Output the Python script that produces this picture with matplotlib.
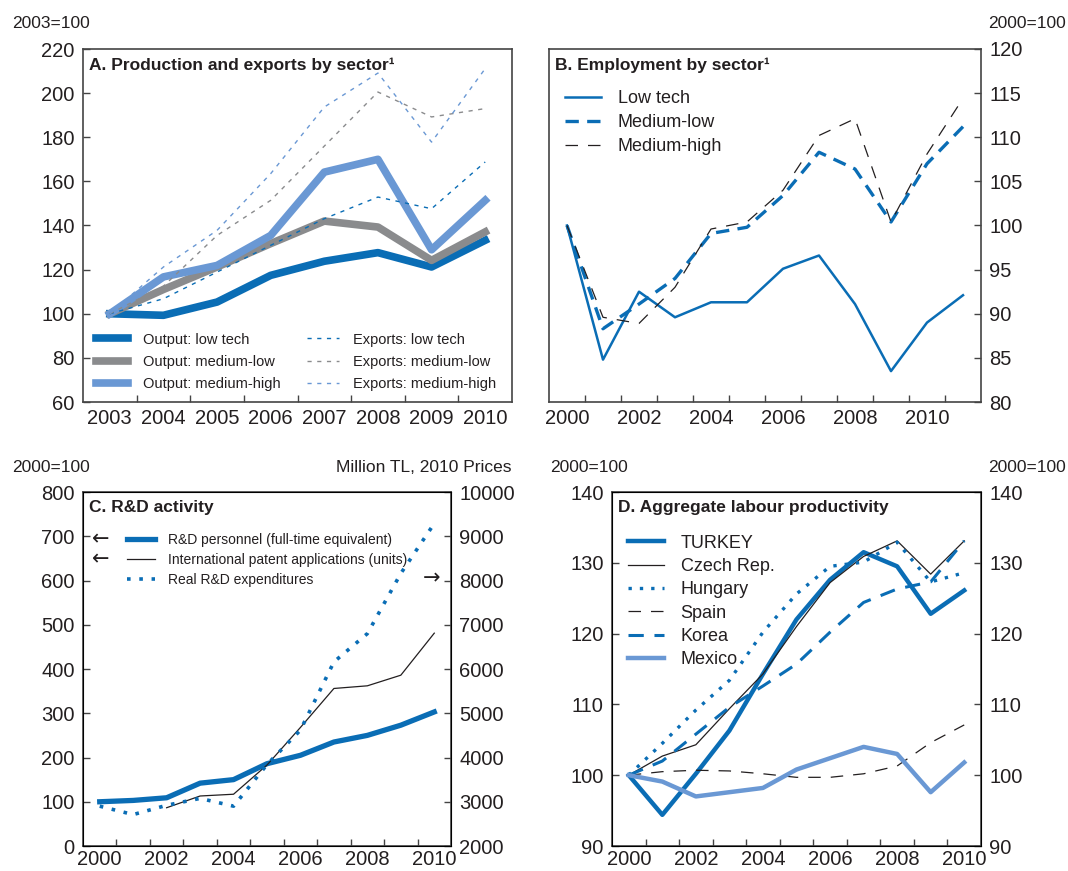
import matplotlib
matplotlib.use('Agg')
import matplotlib.pyplot as plt
from matplotlib.ticker import FixedLocator

plt.rcParams['font.family'] = ['Liberation Sans', 'DejaVu Sans']

DARK = '#0A6DB5'
GREY = '#8A8B8D'
LIGHT = '#6A98D4'
TXT = '#231F20'

# Panel A: production and exports (2003=100)
years_a = ['2003', '2004', '2005', '2006', '2007', '2008', '2009', '2010']
out_low = [100, 99.3, 105.3, 117.4, 123.8, 127.7, 121.2, 133.3]
out_medlow = [100, 111, 121.2, 131.8, 142.0, 139.3, 124.2, 137.1]
out_medhigh = [100, 116.7, 121.9, 135.5, 164.2, 170.0, 129.0, 151.4]
exp_low = [100, 106.8, 118.9, 131.0, 143.1, 152.9, 147.6, 168.8]
exp_medlow = [100, 112.5, 135.5, 151.4, 176.0, 200.5, 189.2, 193.0]
exp_medhigh = [100, 121.2, 137.8, 163.5, 193.7, 209.1, 177.8, 211.1]

# Panel B: employment by sector (2000=100)
years_b = list(range(2000, 2012))
emp_low = [100, 84.8, 92.5, 89.6, 91.3, 91.3, 95.1, 96.6, 91.1, 83.5, 89.0, 92.1]
emp_medlow = [100, 88.3, 91.1, 94.0, 99.1, 99.8, 103.4, 108.3, 106.4, 100.4, 107.0, 111.2]
emp_medhigh = [100, 89.6, 88.9, 93.0, 99.6, 100.4, 104.0, 110.2, 112.1, 100.4, 108.1, 114.4]

# Panel C: R&D activity
years_c = list(range(2000, 2011))
rd_personnel = [100, 103, 109, 142, 150, 186, 205, 235, 250, 273, 303]
patent_years = list(range(2002, 2011))
patents = [86.5, 113, 117, 183, 268, 356, 362, 386, 481]
rd_expend = [2900, 2710, 2920, 3076, 2900, 3840, 4620, 6160, 6800, 8160, 9290]

# Panel D: aggregate labour productivity (2000=100)
years_d = list(range(2000, 2011))
turkey = [100, 94.4, 100.2, 106.3, 114.3, 122.0, 127.6, 131.5, 129.5, 122.8, 126.1]
czech = [100, 102.7, 104.3, 109.4, 114.3, 121.0, 127.2, 130.9, 133.1, 128.4, 133.1]
hungary = [100, 104.5, 109.2, 113.4, 120.2, 125.6, 129.5, 130.1, 132.9, 127.3, 128.6]
spain = [100, 100.5, 100.7, 100.6, 100.2, 99.7, 99.7, 100.2, 101.3, 104.6, 107.1]
korea = [100, 102.0, 105.8, 109.6, 112.6, 115.7, 120.2, 124.4, 126.3, 127.3, 133.1]
mexico = [100, 99.1, 97.0, 97.6, 98.2, 100.8, 102.4, 104.0, 103.0, 97.6, 101.8]

fig = plt.figure(figsize=(10.68, 8.71), dpi=100)
W, H = 1068, 871


def axes_px(left, top, right, bottom):
    return fig.add_axes([left / W, 1 - bottom / H, (right - left) / W, (bottom - top) / H])


def style(ax, n, labels, label_step=1, xpad=5):
    ax.set_xlim(-0.5, n - 0.5)
    ax.set_xticks(range(0, n, label_step))
    ax.set_xticklabels(labels[::label_step])
    ax.xaxis.set_minor_locator(FixedLocator([i + 0.5 for i in range(n - 1)]))
    ax.tick_params(axis='x', which='major', length=0, labelsize=14.5, colors=TXT, pad=xpad)
    ax.tick_params(axis='x', which='minor', length=5, direction='in', color='#444444', width=1)
    ax.tick_params(axis='y', direction='in', length=5, width=1, color='#444444',
                   labelsize=14.5, labelcolor=TXT, pad=6)
    for s in ax.spines.values():
        s.set_color('#444444')
        s.set_linewidth(1.2)


# ---- Panel A
ax = axes_px(83, 49, 512, 402)
xa = range(len(years_a))
h1, = ax.plot(xa, out_low, color=DARK, lw=5.5, label='Output: low tech')
h2, = ax.plot(xa, out_medlow, color=GREY, lw=5.5, label='Output: medium-low')
h3, = ax.plot(xa, out_medhigh, color=LIGHT, lw=5.5, label='Output: medium-high')
h4, = ax.plot(xa, exp_low, color=DARK, lw=1, dashes=(3, 4), label='Exports: low tech')
h5, = ax.plot(xa, exp_medlow, color=GREY, lw=1, dashes=(3, 4), label='Exports: medium-low')
h6, = ax.plot(xa, exp_medhigh, color=LIGHT, lw=1, dashes=(3, 4), label='Exports: medium-high')
ax.set_ylim(60, 220)
ax.set_yticks(range(60, 221, 20))
style(ax, len(years_a), years_a)
ax.text(0.015, 0.955, 'A. Production and exports by sector¹', transform=ax.transAxes,
        fontsize=12.5, fontweight='bold', color=TXT, va='center')
ax.legend(handles=[h1, h2, h3, h4, h5, h6], ncol=2, loc='lower left',
          bbox_to_anchor=(0.0, -0.005), frameon=False, fontsize=10.5,
          handlelength=2.2, handletextpad=1.0, columnspacing=1.8, labelspacing=0.55,
          labelcolor=TXT)
fig.text(12 / W, 1 - 24 / H, '2003=100', fontsize=12.5, color=TXT, va='center')

# ---- Panel B
ax = axes_px(549, 49, 981, 402)
xb = range(len(years_b))
ax.plot(xb, emp_low, color=DARK, lw=1.8, label='Low tech')
ax.plot(xb, emp_medlow, color=DARK, lw=2.4, dashes=(4, 2.5), label='Medium-low')
ax.plot(xb, emp_medhigh, color=TXT, lw=0.9, dashes=(10, 8), label='Medium-high')
ax.set_ylim(80, 120)
ax.set_yticks(range(80, 121, 5))
ax.yaxis.tick_right()
style(ax, len(years_b), [str(y) for y in years_b], 2)
ax.text(0.015, 0.955, 'B. Employment by sector¹', transform=ax.transAxes,
        fontsize=12.5, fontweight='bold', color=TXT, va='center')
ax.legend(loc='upper left', bbox_to_anchor=(0.0, 0.93), frameon=False, fontsize=13,
          handlelength=2.0, handletextpad=0.9, labelspacing=0.4, labelcolor=TXT)
fig.text(1066 / W, 1 - 24 / H, '2000=100', fontsize=12.5, color=TXT, va='center', ha='right')

# ---- Panel C
ax = axes_px(83, 492, 451, 846)
ax2 = ax.twinx()
xc = range(len(years_c))
xp = [years_c.index(y) for y in patent_years]
c1, = ax.plot(xc, rd_personnel, color=DARK, lw=3.8, label='R&D personnel (full-time equivalent)')
c2, = ax.plot(xp, patents, color=TXT, lw=0.9, label='International patent applications (units)')
c3, = ax2.plot(xc, rd_expend, color=DARK, lw=2.6, dashes=(1, 2.4), label='Real R&D expenditures')
ax.set_ylim(0, 800)
ax.set_yticks(range(0, 801, 100))
ax2.set_ylim(2000, 10000)
ax2.set_yticks(range(2000, 10001, 1000))
style(ax, len(years_c), [str(y) for y in years_c], 2, xpad=3)
ax2.tick_params(axis='y', direction='in', length=5, width=1, color='#444444',
                labelsize=14.5, labelcolor=TXT, pad=6)
ax.text(0.015, 0.955, 'C. R&D activity', transform=ax.transAxes,
        fontsize=12.5, fontweight='bold', color=TXT, va='center')
ax2.legend(handles=[c1, c2, c3], loc='upper left', bbox_to_anchor=(0.085, 0.92), frameon=False,
           fontsize=10, handlelength=2.0, handletextpad=1.0, labelspacing=0.45, labelcolor=TXT)
for yy in (539, 559):
    fig.text(101 / W, 1 - yy / H, '←', fontsize=15, color=TXT, ha='center', va='center',
             family=['DejaVu Sans'])
fig.text(432 / W, 1 - 578 / H, '→', fontsize=15, color=TXT, ha='center', va='center',
         family=['DejaVu Sans'])
fig.text(12 / W, 1 - 467 / H, '2000=100', fontsize=12.5, color=TXT, va='center')
fig.text(511 / W, 1 - 467 / H, 'Million TL, 2010 Prices', fontsize=12.5, color=TXT,
         va='center', ha='right')

# ---- Panel D
ax = axes_px(612, 492, 981, 846)
ax2 = ax.twinx()
xd = range(len(years_d))
ax.plot(xd, turkey, color=DARK, lw=3.2, label='TURKEY')
ax.plot(xd, czech, color=TXT, lw=0.9, label='Czech Rep.')
ax.plot(xd, hungary, color=DARK, lw=2.4, dashes=(1, 2.4), label='Hungary')
ax.plot(xd, spain, color=TXT, lw=0.9, dashes=(10, 8), label='Spain')
ax.plot(xd, korea, color=DARK, lw=2.2, dashes=(5, 3.5), label='Korea')
ax.plot(xd, mexico, color=LIGHT, lw=3.2, label='Mexico')
for a in (ax, ax2):
    a.set_ylim(90, 140)
    a.set_yticks(range(90, 141, 10))
style(ax, len(years_d), [str(y) for y in years_d], 2, xpad=3)
ax2.tick_params(axis='y', direction='in', length=5, width=1, color='#444444',
                labelsize=14.5, labelcolor=TXT, pad=6)
ax.text(0.015, 0.955, 'D. Aggregate labour productivity', transform=ax.transAxes,
        fontsize=12.5, fontweight='bold', color=TXT, va='center')
ax.legend(loc='upper left', bbox_to_anchor=(0.0, 0.925), frameon=False, fontsize=13,
          handlelength=2.0, handletextpad=0.9, labelspacing=0.35, labelcolor=TXT)
fig.text(550 / W, 1 - 467 / H, '2000=100', fontsize=12.5, color=TXT, va='center')
fig.text(1066 / W, 1 - 467 / H, '2000=100', fontsize=12.5, color=TXT, va='center', ha='right')

fig.savefig('out.png', dpi=100)
